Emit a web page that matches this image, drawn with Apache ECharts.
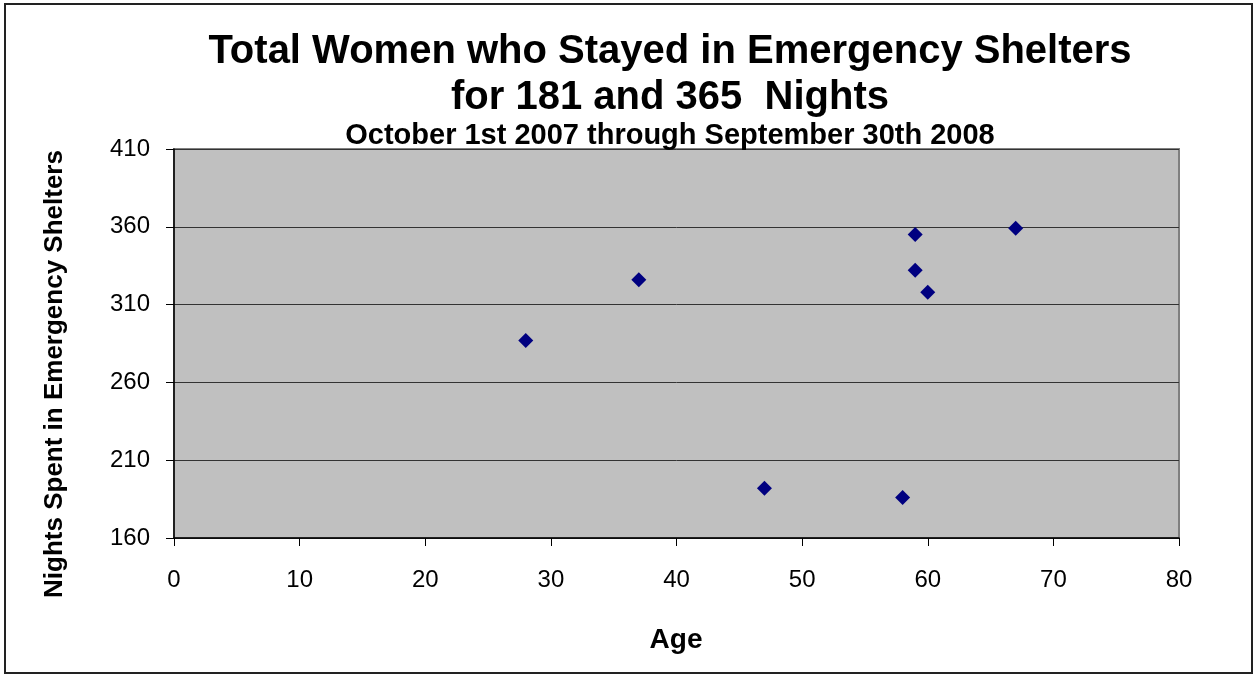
<!DOCTYPE html>
<html>
<head>
<meta charset="utf-8">
<script src="https://cdn.jsdelivr.net/npm/echarts@6/dist/echarts.min.js"></script>
<style>
  html, body { margin: 0; padding: 0; background: #fff; }
  #main { width: 1255px; height: 675px; }
</style>
</head>
<body>
<div id="main"></div>
<script>
// 数据
var ages = [28, 37, 47, 58, 59, 59, 60, 67];
var nights = [287, 326, 192, 186, 355, 332, 318, 359];
var xTicks = [0, 10, 20, 30, 40, 50, 60, 70, 80];
var yTicks = [160, 210, 260, 310, 360, 410];

(function(){
    var myChart = echarts.init(document.getElementById('main'));
    var points = ages.map(function(a, i){ return [a, nights[i]]; });
    var font = 'Liberation Sans, Arial, sans-serif';
    var option = {
        backgroundColor: '#fff',
        animation: false,
        title: [
            {
                text: 'Total Women who Stayed in Emergency Shelters\nfor 181 and 365  Nights',
                left: 665,
                top: 24,
                textAlign: 'center',
                textStyle: { fontFamily: font, fontSize: 40, fontWeight: 'bold', color: '#000', lineHeight: 46 }
            },
            {
                text: 'October 1st 2007 through September 30th 2008',
                left: 665,
                top: 116,
                textAlign: 'center',
                textStyle: { fontFamily: font, fontSize: 29, fontWeight: 'bold', color: '#000', lineHeight: 30 }
            }
        ],
        graphic: [
            {
                type: 'rect',
                shape: { x: 5, y: 4, width: 1247, height: 669 },
                style: { fill: 'none', stroke: '#222', lineWidth: 2 },
                silent: true
            },
            {
                type: 'text',
                x: 55,
                y: 374,
                rotation: Math.PI / 2,
                style: {
                    text: 'Nights Spent in Emergency Shelters',
                    font: 'bold 26px ' + font,
                    fill: '#000',
                    align: 'center',
                    verticalAlign: 'middle'
                }
            },
            {
                type: 'text',
                x: 676,
                y: 640,
                style: {
                    text: 'Age',
                    font: 'bold 28px ' + font,
                    fill: '#000',
                    align: 'center',
                    verticalAlign: 'middle'
                }
            }
        ],
        grid: {
            left: 174,
            right: 76,
            top: 149,
            bottom: 137,
            show: true,
            backgroundColor: '#c0c0c0',
            borderColor: '#808080',
            borderWidth: 2
        },
        xAxis: {
            type: 'value',
            min: xTicks[0],
            max: xTicks[xTicks.length - 1],
            interval: 10,
            axisLine: { show: true, onZero: false, lineStyle: { color: '#000', width: 1.5 } },
            axisTick: { show: true, length: 8, lineStyle: { color: '#000' } },
            axisLabel: { color: '#000', fontFamily: font, fontSize: 24, margin: 30 },
            splitLine: { show: false }
        },
        yAxis: {
            type: 'value',
            min: yTicks[0],
            max: yTicks[yTicks.length - 1],
            interval: 50,
            axisLine: { show: true, onZero: false, lineStyle: { color: '#000', width: 1.5 } },
            axisTick: { show: true, length: 8, lineStyle: { color: '#000' } },
            axisLabel: { color: '#000', fontFamily: font, fontSize: 24, margin: 24 },
            splitLine: { show: true, lineStyle: { color: '#333', width: 1 } }
        },
        series: [
            {
                type: 'scatter',
                symbol: 'diamond',
                symbolSize: 15,
                itemStyle: { color: '#000080', opacity: 1 },
                data: points
            }
        ]
    };
    myChart.setOption(option);
    window.addEventListener("resize", function(){
        myChart.resize();
    });
})();
</script>
</body>
</html>
